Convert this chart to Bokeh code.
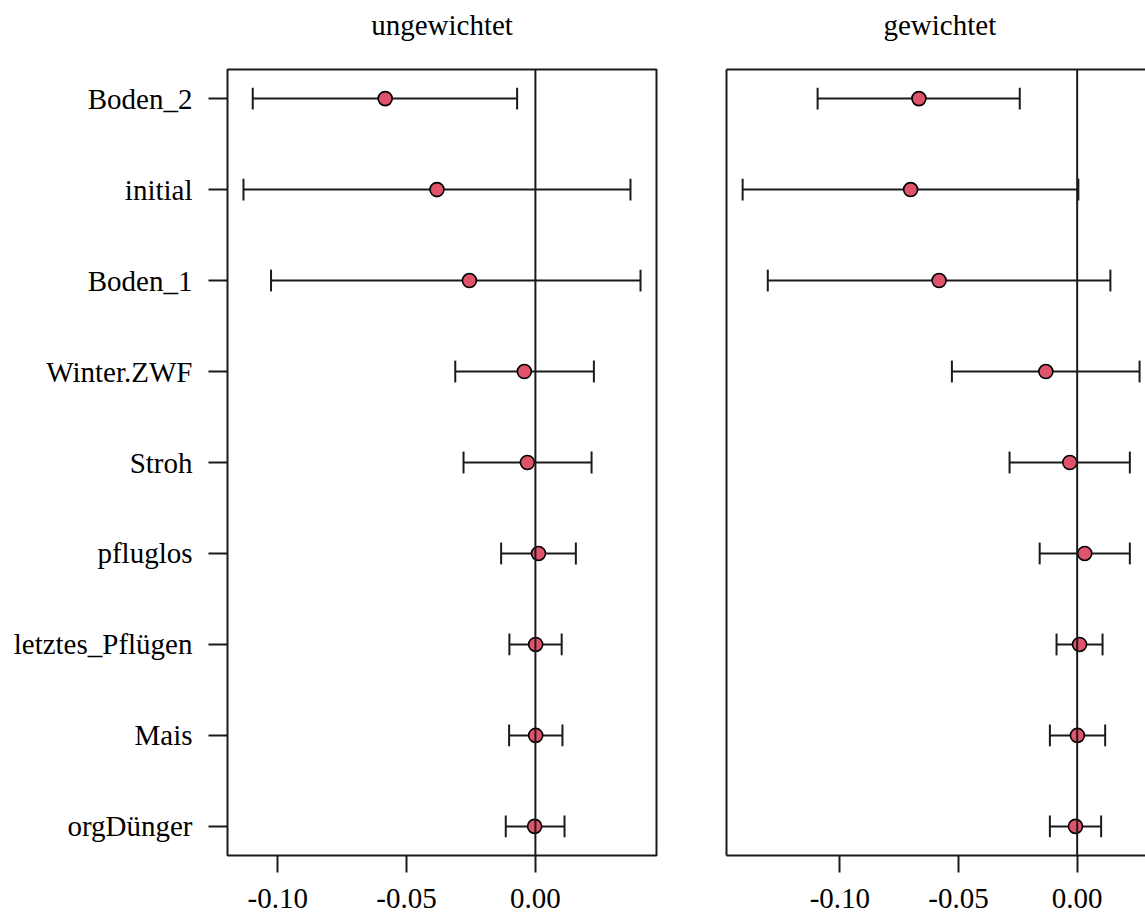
from bokeh.plotting import figure
from bokeh.models import ColumnDataSource, Range1d, FixedTicker, Span, LinearAxis, PrintfTickFormatter, Title
from bokeh.layouts import row
from bokeh.embed import file_html
from bokeh.resources import INLINE

labels = ["Boden_2", "initial", "Boden_1", "Winter.ZWF", "Stroh", "pfluglos",
          "letztes_Pflügen", "Mais", "orgDünger"]

ungew_est = [-0.0583, -0.0382, -0.0256, -0.0043, -0.0031, 0.0012, 0.0001, 0.0001, -0.0003]
ungew_lo = [-0.1097, -0.1133, -0.1026, -0.0311, -0.0279, -0.0133, -0.0101, -0.0102, -0.0115]
ungew_hi = [-0.0071, 0.0369, 0.0408, 0.0227, 0.0218, 0.0157, 0.0102, 0.0105, 0.0113]

gew_est = [-0.0667, -0.0702, -0.0582, -0.0132, -0.0031, 0.0032, 0.0010, 0.0001, -0.0007]
gew_lo = [-0.1094, -0.1410, -0.1304, -0.0528, -0.0285, -0.0158, -0.0087, -0.0115, -0.0115]
gew_hi = [-0.0242, 0.0005, 0.0140, 0.0263, 0.0222, 0.0222, 0.0107, 0.0118, 0.0101]

x_ticks = [-0.10, -0.05, 0.00]
titles = ["ungewichtet", "gewichtet"]

FONT = "Liberation Serif"
FS = "29px"
LINE = "#1a1a1a"
PT = "#DF536B"
CAP = 0.12

ys = list(range(len(labels), 0, -1))
Y0, Y1 = 0.68, 9.32
FRAME_H = 786
TOP = 69


def make_panel(title, est, lo, hi, xr, title_align, title_offset, width, mb_left, mb_right,
               show_labels, full_box):
    p = figure(width=width, height=921, output_backend="svg", toolbar_location=None,
               x_range=Range1d(*xr), y_range=Range1d(Y0, Y1),
               min_border_left=mb_left, min_border_right=mb_right,
               min_border_top=TOP, min_border_bottom=921 - TOP - FRAME_H,
               background_fill_color="white", border_fill_color="white",
               x_axis_type=None, y_axis_type=None)
    p.grid.visible = False
    p.title = Title(text=title, align=title_align, offset=title_offset, text_font=FONT,
                    text_font_size=FS, text_font_style="normal", text_color="black",
                    standoff=6)

    src = ColumnDataSource(dict(
        y=ys, est=est, lo=lo, hi=hi,
        ylo=[v - CAP for v in ys], yhi=[v + CAP for v in ys]))

    p.segment(x0="lo", y0="y", x1="hi", y1="y", source=src, line_color=LINE, line_width=2)
    p.segment(x0="lo", y0="ylo", x1="lo", y1="yhi", source=src, line_color=LINE, line_width=2)
    p.segment(x0="hi", y0="ylo", x1="hi", y1="yhi", source=src, line_color=LINE, line_width=2)
    p.scatter(x="est", y="y", source=src, size=14, fill_color=PT, line_color="black",
              line_width=1.6)

    p.add_layout(Span(location=0, dimension="height", line_color=LINE, line_width=2))

    xa = LinearAxis(ticker=FixedTicker(ticks=x_ticks),
                    formatter=PrintfTickFormatter(format="%.2f"))
    xa.major_tick_out = 17
    xa.major_tick_in = 0
    xa.minor_tick_out = 0
    xa.minor_tick_in = 0
    xa.major_tick_line_width = 2
    xa.major_tick_line_color = LINE
    xa.major_label_text_font = FONT
    xa.major_label_text_font_size = FS
    xa.major_label_text_color = "black"
    xa.major_label_standoff = 16
    p.add_layout(xa, "below")

    ya = LinearAxis(ticker=FixedTicker(ticks=ys if show_labels else []))
    ya.minor_tick_out = 0
    ya.minor_tick_in = 0
    ya.major_tick_in = 0
    ya.major_tick_line_width = 2
    ya.major_tick_line_color = LINE
    if show_labels:
        ya.major_label_overrides = {int(v): lab for v, lab in zip(ys, labels)}
        ya.major_tick_out = 19
        ya.major_label_standoff = 16
        ya.major_label_text_font = FONT
        ya.major_label_text_font_size = FS
        ya.major_label_text_color = "black"
    else:
        ya.major_tick_out = 0
        ya.major_label_text_font_size = "0px"
    p.add_layout(ya, "left")

    # top axis: invisible spacer between frame and title (and top frame line for the cut panel)
    ta = LinearAxis(ticker=FixedTicker(ticks=x_ticks[:1]))
    ta.major_tick_out = 26
    ta.major_tick_in = 0
    ta.minor_tick_out = 0
    ta.minor_tick_in = 0
    ta.major_tick_line_color = "white"
    ta.major_tick_line_alpha = 0.01
    ta.major_label_text_font_size = "0px"
    ta.major_label_standoff = 0
    p.add_layout(ta, "above")

    if full_box:
        p.outline_line_color = LINE
        p.outline_line_width = 2
        xa.axis_line_color = None
        ya.axis_line_color = None
        ta.axis_line_color = None
    else:
        p.outline_line_color = None
        for ax in (xa, ya, ta):
            ax.axis_line_color = LINE
            ax.axis_line_width = 2
    return p


xr1 = (-0.1195, 0.047)
xr2 = (-0.1478, 0.0288)
p1 = make_panel(titles[0], ungew_est, ungew_lo, ungew_hi, xr1, "center", 0,
                691, 227, 35, True, True)
p2 = make_panel(titles[1], gew_est, gew_lo, gew_hi, xr2, "left", 157,
                454, 35, 0, False, False)

layout = row(p1, p2)
open("out.html", "w").write(file_html(layout, INLINE))
